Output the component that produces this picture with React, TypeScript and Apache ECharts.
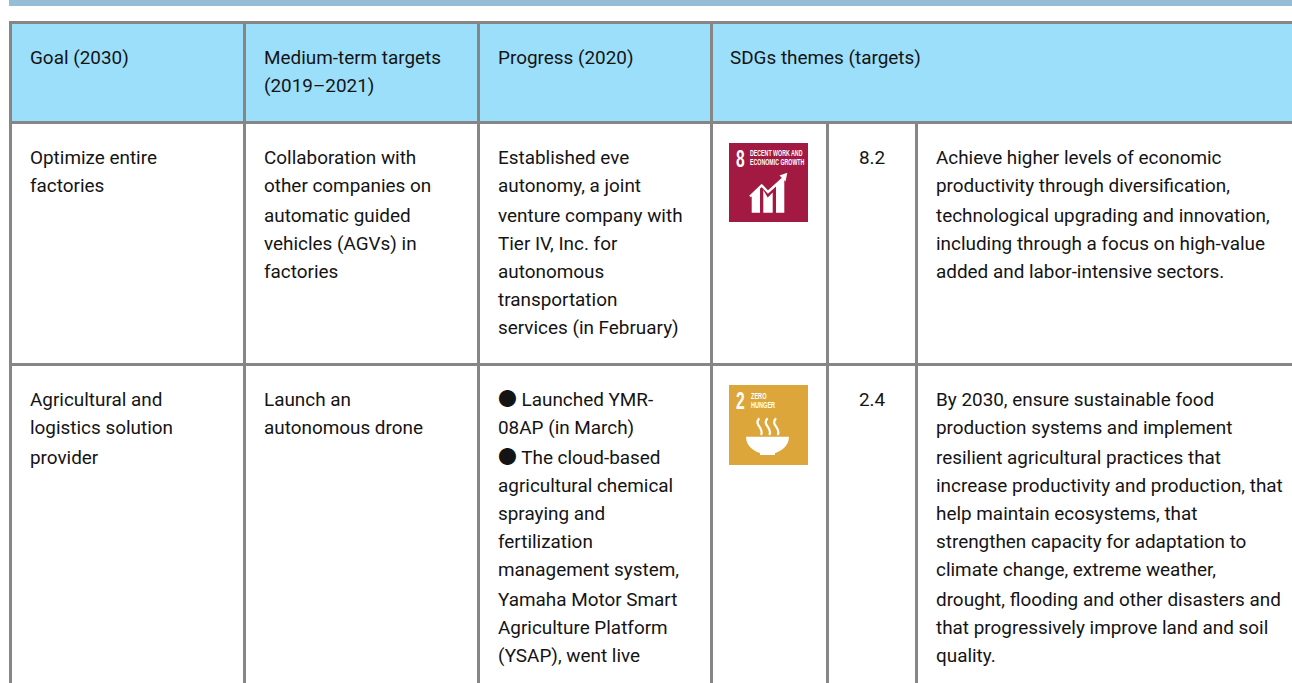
import React, { useEffect, useRef } from "react";
import * as echarts from "echarts";

const headers = [["Goal (2030)"], ["Medium-term targets", "(2019–2021)"], ["Progress (2020)"], ["SDGs themes (targets)"]];
const goals = [["Optimize entire", "factories"], ["Agricultural and", "logistics solution", "provider"]];
const mediumTerm = [
  ["Collaboration with", "other companies on", "automatic guided", "vehicles (AGVs) in", "factories"],
  ["Launch an", "autonomous drone"],
];
const progress = [
  ["Established eve", "autonomy, a joint", "venture company with", "Tier IV, Inc. for", "autonomous", "transportation", "services (in February)"],
  ["● Launched YMR-", "08AP (in March)", "● The cloud-based", "agricultural chemical", "spraying and", "fertilization", "management system,", "Yamaha Motor Smart", "Agriculture Platform", "(YSAP), went live"],
];
const targetIds = ["8.2", "2.4"];
const targetTexts = [
  ["Achieve higher levels of economic", "productivity through diversification,", "technological upgrading and innovation,", "including through a focus on high-value", "added and labor-intensive sectors."],
  ["By 2030, ensure sustainable food", "production systems and implement", "resilient agricultural practices that", "increase productivity and production, that", "help maintain ecosystems, that", "strengthen capacity for adaptation to", "climate change, extreme weather,", "drought, flooding and other disasters and", "that progressively improve land and soil", "quality."],
];

const headY = [57.5, 85.5];
const rowY = [
  [157.5, 185.5, 215.5, 243.5, 271.5, 299.5, 327.5],
  [399.5, 427.5, 457.5, 485.5, 513.5, 541.5, 569.5, 599.5, 627.5, 655.5],
];
const colX = [30, 264, 498];
const targetTextX = 936;
const FONT = '18.9px Roboto, "Noto Sans CJK JP", sans-serif';
const INK = "#141414";
const GRID = "#868686";

echarts.graphic.registerShape("bowl", echarts.graphic.extendPath("M746 436.7 H789 C789 446 781 451 775 453 V455 H760 V453 C754 451 746 446 746 436.7 Z", {}));
echarts.graphic.registerShape("steam", echarts.graphic.extendPath("M759.3 418.3 C753 425 765 428 761 435 M767.6 418.3 C761.3 425 773.3 428 769.3 435 M776 418.3 C769.7 425 781.7 428 777.7 435", {}));

const label = (text: string, x: number, y: number, extra: any = {}) => ({
  type: "text",
  x,
  y,
  silent: true,
  style: { text, font: FONT, fill: INK, textVerticalAlign: "middle", ...extra },
});
const block = (x: number, y: number, w: number, h: number, fill: string) => ({
  type: "rect",
  silent: true,
  shape: { x, y, width: w, height: h },
  style: { fill },
});
const iconText = (text: string, x: number, y: number, size: number, sx: number) => ({
  type: "text",
  x,
  y,
  scaleX: sx,
  silent: true,
  style: { text, font: `bold ${size}px "Liberation Sans"`, fill: "#fff", textVerticalAlign: "middle" },
});

function buildElements() {
  const els: any[] = [];
  els.push(block(9, 0, 1283, 6, "#95bdd5"));
  els.push(block(12, 24, 1280, 97, "#9cdffb"));

  // grid
  [9, 243, 477, 710].forEach((x) => els.push(block(x, 21, 3, 662, GRID)));
  [826, 915].forEach((x) => els.push(block(x, 121, 3, 562, GRID)));
  [21, 121, 363].forEach((y) => els.push(block(9, y, 1283, 3, GRID)));

  // header
  headers.forEach((lines, c) => {
    const x = c < 3 ? colX[c] : 730;
    lines.forEach((t, i) => els.push(label(t, x, headY[i])));
  });

  // body
  [goals, mediumTerm, progress].forEach((col, c) =>
    col.forEach((cell, r) => cell.forEach((t, i) => els.push(label(t, colX[c], rowY[r][i]))))
  );
  targetIds.forEach((t, r) => els.push(label(t, 872, rowY[r][0], { textAlign: "center" })));
  targetTexts.forEach((cell, r) => cell.forEach((t, i) => els.push(label(t, targetTextX, rowY[r][i]))));

  // SDG 8 icon
  els.push(block(729, 143, 79, 79, "#a21942"));
  els.push(iconText("8", 736, 158.5, 23, 0.68));
  els.push(iconText("DECENT WORK AND", 750, 153, 8.5, 0.62));
  els.push(iconText("ECONOMIC GROWTH", 750, 162, 8.5, 0.62));
  els.push({ type: "polygon", silent: true, shape: { points: [[751.7, 195], [760, 187.5], [760, 212.7], [751.7, 212.7]] }, style: { fill: "#fff" } });
  els.push({ type: "polygon", silent: true, shape: { points: [[763.3, 190], [767.7, 197.5], [772.7, 192.5], [772.7, 212.7], [763.3, 212.7]] }, style: { fill: "#fff" } });
  els.push({ type: "polygon", silent: true, shape: { points: [[776, 185], [784.3, 178.5], [784.3, 212.7], [776, 212.7]] }, style: { fill: "#fff" } });
  els.push({ type: "polyline", silent: true, shape: { points: [[750, 196.5], [761.7, 185.5], [768, 192], [783, 178.5]] }, style: { stroke: "#fff", lineWidth: 2.4, fill: "none" } });
  els.push({ type: "polygon", silent: true, shape: { points: [[787.3, 172.7], [785.5, 181.5], [779.5, 175.5]] }, style: { fill: "#fff" } });

  // SDG 2 icon
  els.push(block(729, 385, 79, 80, "#dda63a"));
  els.push(iconText("2", 736, 401, 23, 0.68));
  els.push(iconText("ZERO", 751, 395.5, 9.3, 0.6));
  els.push(iconText("HUNGER", 751, 404.5, 9.3, 0.6));
  els.push({ type: "steam", silent: true, style: { stroke: "#fff", lineWidth: 2.2, fill: "none" } });
  els.push({ type: "bowl", silent: true, style: { fill: "#fff" } });
  return els;
}

export default function App() {
  const ref = useRef<HTMLDivElement>(null);
  useEffect(() => {
    const chart = echarts.init(ref.current!, undefined, { renderer: "svg" });
    chart.setOption({ animation: false, backgroundColor: "#fff", graphic: { elements: buildElements() } });
    return () => chart.dispose();
  }, []);
  return <div ref={ref} style={{ position: "fixed", left: 0, top: 0, width: 1292, height: 683 }} />;
}
